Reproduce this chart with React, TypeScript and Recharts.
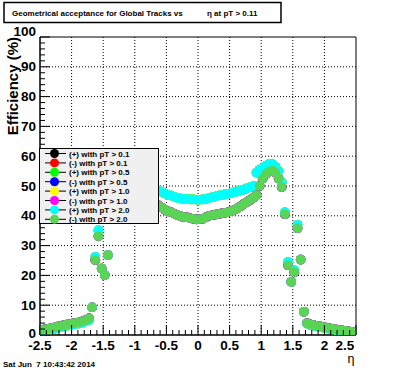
import React from 'react';
import { ScatterChart, Scatter, XAxis, YAxis, ReferenceLine, ReferenceArea, Legend } from 'recharts';

const W = 396;
const H = 372;
const FONT = '"Liberation Sans", Arial, Helvetica, sans-serif';

// eta bin centres
const eta = [
  -2.475, -2.425, -2.375, -2.325, -2.275, -2.225, -2.175, -2.125, -2.075, -2.025,
  -1.975, -1.925, -1.875, -1.825, -1.775, -1.725, -1.675, -1.625, -1.575, -1.525,
  -1.475, -1.425, -1.375, -1.325, -1.275, -1.225, -1.175, -1.125, -1.075, -1.025,
  -0.975, -0.925, -0.875, -0.825, -0.775, -0.725, -0.675, -0.625, -0.575, -0.525,
  -0.475, -0.425, -0.375, -0.325, -0.275, -0.225, -0.175, -0.125, -0.075, -0.025,
  0.025, 0.075, 0.125, 0.175, 0.225, 0.275, 0.325, 0.375, 0.425, 0.475,
  0.525, 0.575, 0.625, 0.675, 0.725, 0.775, 0.825, 0.875, 0.925, 0.975,
  1.025, 1.075, 1.125, 1.175, 1.225, 1.275, 1.325, 1.375, 1.425, 1.475,
  1.525, 1.575, 1.625, 1.675, 1.725, 1.775, 1.825, 1.875, 1.925, 1.975,
  2.025, 2.075, 2.125, 2.175, 2.225, 2.275, 2.325, 2.375, 2.425, 2.475,
];

// efficiency (%) for positive tracks
const effPlus = [
  1.3, 1.5, 1.7, 1.9, 2.1, 2.4, 2.6, 2.9, 3.1, 3.3,
  3.5, 3.7, 3.9, 4.2, 4.6, 5.0, 9.3, 26.2, 35.1, 22.3,
  20.1, 26.8, 52.0, 54.0, 55.5, 56.0, 56.2, 55.8, 55.0, 54.0,
  52.5, 51.0, 50.0, 49.6, 49.3, 49.0, 48.8, 48.5, 48.0, 47.5,
  47.0, 46.8, 46.4, 46.0, 45.8, 45.7, 45.6, 45.5, 45.5, 45.4,
  45.4, 45.5, 45.7, 45.9, 46.2, 46.5, 46.8, 47.0, 47.2, 47.4,
  47.6, 47.9, 48.2, 48.5, 48.8, 49.2, 49.6, 50.0, 54.5, 55.5,
  56.0, 56.8, 57.4, 57.3, 56.5, 55.0, 51.3, 41.2, 24.5, 17.8,
  21.7, 37.0, 25.3, 7.8, 3.8, 3.4, 3.1, 2.9, 2.7, 2.5,
  2.3, 2.1, 1.9, 1.7, 1.5, 1.4, 1.2, 1.1, 0.9, 0.8,
];

// efficiency (%) for negative tracks
const effMinus = [
  1.7, 1.9, 2.1, 2.3, 2.5, 2.8, 3.0, 3.3, 3.5, 3.7,
  3.9, 4.1, 4.3, 4.6, 5.0, 5.6, 9.3, 25.1, 33.1, 22.3,
  20.1, 26.8, 48.0, 50.5, 52.0, 53.0, 53.0, 52.5, 51.5, 50.0,
  48.0, 46.5, 45.5, 45.0, 44.6, 44.2, 43.8, 43.5, 42.8, 42.0,
  41.5, 41.2, 40.7, 40.2, 39.8, 39.6, 39.5, 39.2, 39.0, 38.8,
  38.9, 39.0, 39.5, 40.0, 40.2, 40.4, 40.6, 40.8, 41.0, 41.2,
  41.6, 42.0, 42.5, 43.2, 44.0, 44.6, 45.3, 46.0, 47.0, 50.0,
  52.5, 54.0, 54.8, 55.2, 54.5, 52.5, 49.6, 40.5, 23.4, 17.8,
  21.0, 35.8, 25.3, 7.8, 4.0, 3.6, 3.3, 3.1, 2.9, 2.7,
  2.5, 2.3, 2.1, 1.9, 1.7, 1.6, 1.4, 1.3, 1.1, 1.0,
];

const seriesNames = [
  '(+) with pT > 0.1',
  '(-) with pT > 0.1',
  '(+) with pT > 0.5',
  '(-) with pT > 0.5',
  '(+) with pT > 1.0',
  '(-) with pT > 1.0',
  '(+) with pT > 2.0',
  '(-) with pT > 2.0',
];
const seriesColors = ['#000000', '#ff0000', '#00ff00', '#0000ff', '#ffff00', '#ff00ff', '#00ffff', '#59d454'];
const seriesValues = [effPlus, effMinus, effPlus, effMinus, effPlus, effMinus, effPlus, effMinus];

const xTicks = [
  -2.5, -2.4, -2.3, -2.2, -2.1, -2.0, -1.9, -1.8, -1.7, -1.6,
  -1.5, -1.4, -1.3, -1.2, -1.1, -1.0, -0.9, -0.8, -0.7, -0.6,
  -0.5, -0.4, -0.3, -0.2, -0.1, 0, 0.1, 0.2, 0.3, 0.4,
  0.5, 0.6, 0.7, 0.8, 0.9, 1.0, 1.1, 1.2, 1.3, 1.4,
  1.5, 1.6, 1.7, 1.8, 1.9, 2.0, 2.1, 2.2, 2.3, 2.4, 2.5,
];
const xMajor = [-2.5, -2, -1.5, -1, -0.5, 0, 0.5, 1, 1.5, 2, 2.5];
const xMajorLabels = ['-2.5', '-2', '-1.5', '-1', '-0.5', '0', '0.5', '1', '1.5', '2', '2.5'];
const xGrid = [-2, -1.5, -1, -0.5, 0, 0.5, 1, 1.5, 2];

const yTicks = [
  0, 2, 4, 6, 8, 10, 12, 14, 16, 18, 20, 22, 24, 26, 28, 30, 32, 34, 36, 38,
  40, 42, 44, 46, 48, 50, 52, 54, 56, 58, 60, 62, 64, 66, 68, 70, 72, 74, 76, 78,
  80, 82, 84, 86, 88, 90, 92, 94, 96, 98, 100,
];
const yMajor = [0, 10, 20, 30, 40, 50, 60, 70, 80, 90, 100];
const yMajorLabels = ['0', '10', '20', '30', '40', '50', '60', '70', '80', '90', '100'];
const yGrid = [10, 20, 30, 40, 50, 60, 70, 80, 90];

const seriesData = seriesValues.map((vals) => eta.map((x, i) => ({ x, y: vals[i] })));

const findIdx = (arr: number[], v: number) => arr.findIndex((m) => Math.abs(m - v) < 1e-6);

const XTick = (props: any) => {
  const { x, y, payload } = props;
  const idx = findIdx(xMajor, payload.value);
  const major = idx >= 0;
  const last = idx === xMajor.length - 1;
  return (
    <g>
      <line x1={x} x2={x} y1={y} y2={y - (major ? 10 : 5)} stroke="#000" strokeWidth={1} />
      {major && (
        <text x={last ? x - 11 : x} y={y + 15} textAnchor="middle" fontSize={13.5} fontWeight="bold" fontFamily={FONT} fill="#000">
          {xMajorLabels[idx]}
        </text>
      )}
    </g>
  );
};

const YTick = (props: any) => {
  const { x, y, payload } = props;
  const idx = findIdx(yMajor, payload.value);
  const major = idx >= 0;
  const last = idx === yMajor.length - 1;
  const first = idx === 0;
  return (
    <g>
      <line x1={x} x2={x + (major ? 10 : 5)} y1={y} y2={y} stroke="#000" strokeWidth={1} />
      {major && (
        <text x={x - 4} y={last ? y - 1 : first ? y + 3 : y + 4.5} textAnchor="end" fontSize={13.5} fontWeight="bold" fontFamily={FONT} fill="#000">
          {yMajorLabels[idx]}
        </text>
      )}
    </g>
  );
};

const makeDot = (color: string) => (props: any) => {
  const { cx, cy } = props;
  if (cx == null || cy == null) return <g />;
  return <circle cx={cx} cy={cy} r={4.8} fill={color} />;
};

const LegendBox = () => (
  <svg width={120} height={76} style={{ display: 'block' }}>
    <rect x={0.5} y={0.5} width={119} height={75} fill="#f0f0f0" stroke="#000" strokeWidth={1} />
    {seriesNames.map((name, i) => {
      const cy = 5.5 + i * 9.4;
      return (
        <g key={name}>
          <line x1={6} x2={27} y1={cy} y2={cy} stroke="#000" strokeWidth={1} />
          <circle cx={15.5} cy={cy} r={4.5} fill={seriesColors[i]} />
          <text x={30} y={cy + 3} fontSize={8} fontWeight="bold" fontFamily={FONT} fill="#000">
            {name}
          </text>
        </g>
      );
    })}
  </svg>
);

const YTitle = (props: any) => {
  const vb = props.viewBox || { x: 0, y: 37 };
  const x = 18;
  const y = vb.y;
  return (
    <text
      x={x}
      y={y}
      transform={`rotate(-90 ${x} ${y})`}
      textAnchor="end"
      fontSize={15}
      fontWeight="bold"
      fontFamily={FONT}
      fill="#000"
    >
      Efficiency (%)
    </text>
  );
};

const XTitle = () => (
  <text x={351} y={363} textAnchor="middle" fontSize={12.5} fontFamily={FONT} fill="#000">
    η
  </text>
);

export default function App() {
  return (
    <div style={{ position: 'absolute', left: 0, top: 0, width: W, height: H, background: '#fff' }}>
      <ScatterChart width={W} height={H} margin={{ top: 37, right: 40, left: 0, bottom: 0 }}>
        <XAxis
          type="number"
          dataKey="x"
          domain={[-2.5, 2.5]}
          ticks={xTicks}
          interval={0}
          tick={<XTick />}
          tickLine={false}
          tickSize={0}
          tickMargin={0}
          height={37}
          axisLine={{ stroke: '#000', strokeWidth: 1 }}
          allowDataOverflow
          label={<XTitle />}
        />
        <YAxis
          type="number"
          dataKey="y"
          domain={[0, 100]}
          ticks={yTicks}
          interval={0}
          tick={<YTick />}
          tickLine={false}
          tickSize={0}
          tickMargin={0}
          width={40}
          axisLine={{ stroke: '#000', strokeWidth: 1 }}
          allowDataOverflow
          label={<YTitle />}
        />
        {xGrid.map((v) => (
          <ReferenceLine key={`gx${v}`} x={v} stroke="#000" strokeWidth={1} strokeDasharray="1 2" />
        ))}
        {yGrid.map((v) => (
          <ReferenceLine key={`gy${v}`} y={v} stroke="#000" strokeWidth={1} strokeDasharray="1 2" />
        ))}
        <ReferenceArea x1={-2.5} x2={2.5} y1={0} y2={100} fill="none" fillOpacity={0} stroke="#000" strokeWidth={1} />
        {seriesData.map((d, i) => (
          <Scatter
            key={seriesNames[i]}
            name={seriesNames[i]}
            data={d}
            fill={seriesColors[i]}
            shape={makeDot(seriesColors[i])}
            isAnimationActive={false}
          />
        ))}
        <Legend
          layout="horizontal"
          verticalAlign="middle"
          align="center"
          content={() => <LegendBox />}
          wrapperStyle={{ left: 39, top: 148, width: 120, height: 76, margin: 0, padding: 0 }}
        />
      </ScatterChart>
      <svg width={W} height={H} style={{ position: 'absolute', left: 0, top: 0, pointerEvents: 'none' }}>
        <rect x={4} y={2.5} width={277} height={20} fill="#fff" stroke="#000" strokeWidth={1.5} />
        <text x={12} y={16} fontSize={8} fontWeight="bold" fontFamily={FONT} fill="#000">
          Geometrical acceptance for Global Tracks vs
        </text>
        <text x={207} y={16} fontSize={8} fontWeight="bold" fontFamily={FONT} fill="#000">
          η at pT &gt; 0.11
        </text>
        <text x={3} y={367} fontSize={8} fontWeight="bold" fontFamily={FONT} fill="#000" style={{ whiteSpace: 'pre' }}>
          {'Sat Jun  7 10:43:42 2014'}
        </text>
      </svg>
    </div>
  );
}
